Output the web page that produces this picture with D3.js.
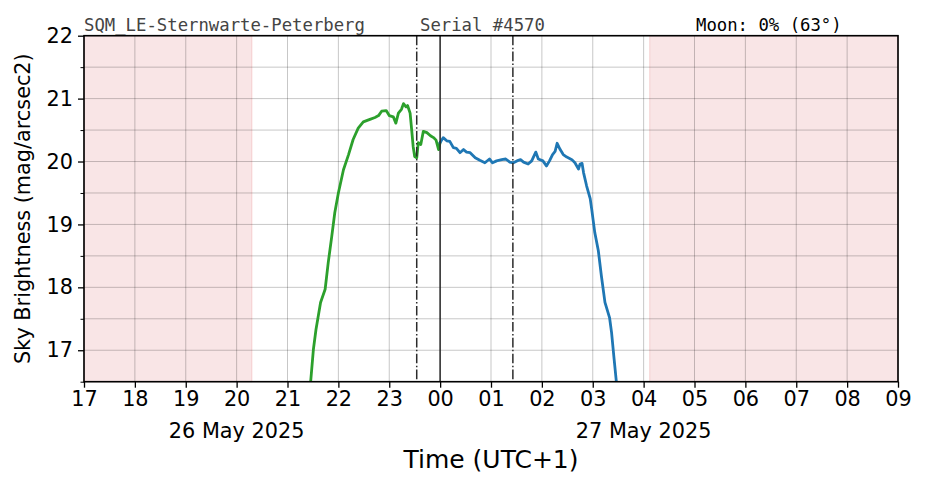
<!DOCTYPE html>
<html>
<head>
<meta charset="utf-8">
<script src="https://cdn.jsdelivr.net/npm/d3@7"></script>
<style>
  html, body { margin: 0; padding: 0; background: #fff; }
  svg { display: block; }
  text { font-family: "DejaVu Sans", sans-serif; }
  .mono { font-family: "DejaVu Sans Mono", monospace; }
</style>
</head>
<body>
<svg id="chart" width="926" height="488"></svg>
<script>
// ---- data (times are decimal hours counted from 00:00 on 26 May 2025) ----
const eveningTimes = [21.45, 21.51, 21.56, 21.65, 21.74, 21.80, 21.87, 21.93, 22.00, 22.10,
  22.20, 22.29, 22.39, 22.49, 22.62, 22.72, 22.79, 22.85, 22.94, 23.00,
  23.08, 23.13, 23.18, 23.24, 23.28, 23.33, 23.36, 23.41, 23.44, 23.47,
  23.50, 23.54, 23.57, 23.62, 23.67, 23.74, 23.81, 23.87, 23.92, 23.97, 24.00];
const eveningValues = [16.45, 17.02, 17.33, 17.76, 17.97, 18.39, 18.81, 19.19, 19.50, 19.87,
  20.11, 20.35, 20.53, 20.63, 20.67, 20.70, 20.73, 20.80, 20.81, 20.73,
  20.71, 20.61, 20.77, 20.83, 20.92, 20.87, 20.89, 20.77, 20.51, 20.24,
  20.08, 20.06, 20.30, 20.27, 20.48, 20.46, 20.41, 20.38, 20.34, 20.19, 20.30];

const morningTimes = [24.00, 24.06, 24.13, 24.19, 24.26, 24.32, 24.39, 24.46, 24.52, 24.59,
  24.69, 24.78, 24.88, 24.97, 25.03, 25.11, 25.21, 25.29, 25.37, 25.44,
  25.51, 25.58, 25.64, 25.73, 25.80, 25.88, 25.93, 26.02, 26.09, 26.15,
  26.21, 26.26, 26.30, 26.36, 26.42, 26.49, 26.59, 26.65, 26.72, 26.75,
  26.79, 26.82, 26.88, 26.95, 26.98, 27.04, 27.11, 27.17, 27.24, 27.33,
  27.37, 27.42, 27.47];
const morningValues = [20.30, 20.38, 20.33, 20.32, 20.22, 20.21, 20.14, 20.19, 20.15, 20.14,
  20.06, 20.02, 19.98, 20.04, 19.98, 20.01, 20.03, 20.04, 19.99, 19.98,
  20.01, 20.03, 19.99, 19.96, 20.01, 20.15, 20.04, 20.01, 19.93, 20.01,
  20.11, 20.16, 20.29, 20.19, 20.11, 20.07, 20.03, 19.98, 19.88, 19.96,
  19.97, 19.82, 19.61, 19.41, 19.24, 18.87, 18.58, 18.18, 17.76, 17.52,
  17.28, 16.86, 16.45];

const daylightStart = [17.0, 28.12];   // shaded (sun up) spans
const daylightEnd   = [20.30, 33.0];
const dashMarkers = [23.54, 25.43];    // dash-dot event lines
const midnightMarker = [24.0];

const xDomainHours = [17, 33];
const yDomain = [16.5, 22];
const yMajorTicks = [17, 18, 19, 20, 21, 22];
const yMinorTicks = [16.5, 17.5, 18.5, 19.5, 20.5, 21.5];
const dateLabels = ["26 May 2025", "27 May 2025"];
const dateLabelHours = [20, 28];

const headerLeft = "SQM_LE-Sternwarte-Peterberg";
const headerMid = "Serial #4570";
const headerRight = "Moon: 0% (63°)";
const xTitle = "Time (UTC+1)";
const yTitle = "Sky Brightness (mag/arcsec2)";

// ---- helpers ----
const base = new Date(2025, 4, 26, 0, 0, 0);
const toDate = h => new Date(base.getTime() + Math.round(h * 3600) * 1000);

// ---- layout ----
const svg = d3.select("#chart");
const m = { left: 84, right: 898, top: 35.7, bottom: 381.7 };

const x = d3.scaleTime().domain(xDomainHours.map(toDate)).range([m.left, m.right]);
const y = d3.scaleLinear().domain(yDomain).range([m.bottom, m.top]);

svg.append("defs").append("clipPath").attr("id", "clip")
  .append("rect").attr("x", m.left).attr("y", m.top)
  .attr("width", m.right - m.left).attr("height", m.bottom - m.top);

// shaded spans
const spans = daylightStart.map((s, i) => ({ s, e: daylightEnd[i] }));
svg.append("g").selectAll("rect").data(spans).join("rect")
  .attr("x", d => x(toDate(d.s)))
  .attr("y", m.top)
  .attr("width", d => x(toDate(d.e)) - x(toDate(d.s)))
  .attr("height", m.bottom - m.top)
  .attr("fill", "#f9e5e6")
  .attr("stroke", "rgba(235,150,150,0.35)")
  .attr("stroke-width", 1);

// grid
const hourTicks = x.ticks(d3.timeHour.every(1));
const grid = svg.append("g").attr("stroke", "rgba(0,0,0,0.28)").attr("stroke-width", 0.8);
grid.selectAll("line.v").data(hourTicks).join("line").attr("class", "v")
  .attr("x1", d => x(d)).attr("x2", d => x(d))
  .attr("y1", m.top).attr("y2", m.bottom);
grid.selectAll("line.h").data(yMajorTicks.concat(yMinorTicks)).join("line").attr("class", "h")
  .attr("x1", m.left).attr("x2", m.right)
  .attr("y1", d => y(d)).attr("y2", d => y(d));

// lines
const line = d3.line().x(d => x(toDate(d[0]))).y(d => y(d[1]));
const plot = svg.append("g").attr("clip-path", "url(#clip)");
plot.append("path")
  .datum(eveningTimes.map((t, i) => [t, eveningValues[i]]))
  .attr("d", line).attr("fill", "none").attr("stroke", "#2ca02c")
  .attr("stroke-width", 2.8).attr("stroke-linejoin", "round").attr("stroke-linecap", "square");
plot.append("path")
  .datum(morningTimes.map((t, i) => [t, morningValues[i]]))
  .attr("d", line).attr("fill", "none").attr("stroke", "#1f77b4")
  .attr("stroke-width", 2.8).attr("stroke-linejoin", "round").attr("stroke-linecap", "square");

// marker lines
svg.append("g").selectAll("line").data(dashMarkers).join("line")
  .attr("x1", d => x(toDate(d))).attr("x2", d => x(toDate(d)))
  .attr("y1", m.top).attr("y2", m.bottom)
  .attr("stroke", "#2b2b2b").attr("stroke-width", 1.5)
  .attr("stroke-dasharray", "9.6,2.4,1.5,2.4");
svg.append("g").selectAll("line").data(midnightMarker).join("line")
  .attr("x1", d => x(toDate(d))).attr("x2", d => x(toDate(d)))
  .attr("y1", m.top).attr("y2", m.bottom)
  .attr("stroke", "#2b2b2b").attr("stroke-width", 1.5);

// axes
const xAxis = d3.axisBottom(x).ticks(d3.timeHour.every(1))
  .tickFormat(d3.timeFormat("%H")).tickSize(6).tickPadding(4);
const gx = svg.append("g").attr("transform", `translate(0,${m.bottom})`).call(xAxis);
gx.select(".domain").remove();
gx.selectAll(".tick line").attr("stroke", "#000").attr("stroke-width", 1.3);
gx.selectAll(".tick text").attr("font-size", "20.8px").attr("fill", "#000")
  .attr("font-family", "DejaVu Sans, sans-serif");

const yAxis = d3.axisLeft(y).tickValues(yMajorTicks).tickFormat(d3.format("d")).tickSize(6).tickPadding(5);
const gy = svg.append("g").attr("transform", `translate(${m.left},0)`).call(yAxis);
gy.select(".domain").remove();
gy.selectAll(".tick line").attr("stroke", "#000").attr("stroke-width", 1.3);
gy.selectAll(".tick text").attr("font-size", "20.8px").attr("fill", "#000")
  .attr("font-family", "DejaVu Sans, sans-serif");

const yMinor = d3.axisLeft(y).tickValues(yMinorTicks).tickFormat("").tickSize(3.5);
const gym = svg.append("g").attr("transform", `translate(${m.left},0)`).call(yMinor);
gym.select(".domain").remove();
gym.selectAll(".tick line").attr("stroke", "#000").attr("stroke-width", 1);

// frame
svg.append("rect").attr("x", m.left).attr("y", m.top)
  .attr("width", m.right - m.left).attr("height", m.bottom - m.top)
  .attr("fill", "none").attr("stroke", "#000").attr("stroke-width", 1.6);

// date labels
svg.append("g").selectAll("text").data(dateLabels).join("text")
  .attr("x", (d, i) => x(toDate(dateLabelHours[i])))
  .attr("y", 437.5)
  .attr("text-anchor", "middle").attr("font-size", "20.8px").attr("fill", "#000")
  .text(d => d);

// titles
svg.append("text").attr("x", (m.left + m.right) / 2).attr("y", 468)
  .attr("text-anchor", "middle").attr("font-size", "25px").attr("fill", "#000")
  .text(xTitle);
svg.append("text")
  .attr("transform", `translate(30,${(m.top + m.bottom) / 2}) rotate(-90)`)
  .attr("text-anchor", "middle").attr("font-size", "20.8px").attr("fill", "#000")
  .text(yTitle);

// header
svg.append("text").attr("class", "mono").attr("x", 84).attr("y", 31)
  .attr("font-size", "17.3px").attr("fill", "#444").text(headerLeft);
svg.append("text").attr("class", "mono").attr("x", 420).attr("y", 31)
  .attr("font-size", "17.3px").attr("fill", "#444").text(headerMid);
svg.append("text").attr("class", "mono").attr("x", 696).attr("y", 31)
  .attr("font-size", "17.3px").attr("fill", "#000").text(headerRight);
</script>
</body>
</html>
